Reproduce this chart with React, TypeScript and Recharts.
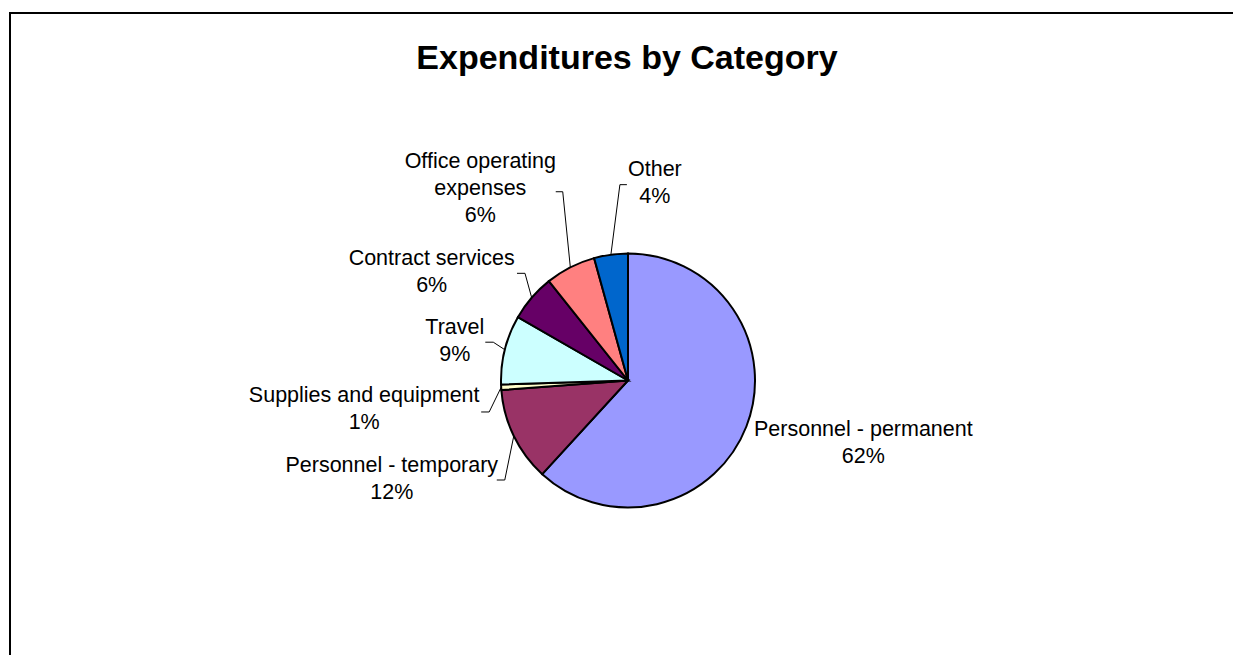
import { PieChart, Pie, Cell } from "recharts";

const categories = [
  "Personnel - permanent",
  "Personnel - temporary",
  "Supplies and equipment",
  "Travel",
  "Contract services",
  "Office operating\nexpenses",
  "Other",
];
const values = [61.8, 12.0, 0.7, 8.8, 6.0, 6.4, 4.3];
const colors = ["#9999FF", "#993366", "#FFFFCC", "#CCFFFF", "#660066", "#FF8080", "#0066CC"];

// label text offsets from the slice's rim point (first baseline), with optional leader elbow
const labelPlacement = [
  { dx: 117, dy: 9, elbow: null, tail: 0 },
  { dx: -122, dy: 35.5, elbow: [-9, 44], tail: -8 },
  { dx: -137, dy: 14.7, elbow: [-12, 24.7], tail: -8 },
  { dx: -50, dy: -15.8, elbow: [-11.5, -7.5], tail: -8 },
  { dx: -100, dy: -32.7, elbow: [-6.7, -24.4], tail: -8 },
  { dx: -90, dy: -99.3, elbow: [-7.6, -75.6], tail: -7 },
  { dx: 44, dy: -78.6, elbow: [9, -70], tail: 7 },
];

const data = categories.map((name, i) => ({ name, value: values[i] }));

const RAD = Math.PI / 180;
const font = "'Liberation Sans', Arial, sans-serif";

const renderLabel = (props: any) => {
  const { cx, cy, midAngle, outerRadius, index, percent, name } = props;
  const rx = cx + outerRadius * Math.cos(-midAngle * RAD);
  const ry = cy + outerRadius * Math.sin(-midAngle * RAD);
  const p = labelPlacement[index];
  const lines = [...String(name).split("\n"), `${Math.round(percent * 100)}%`];
  const tx = rx + p.dx;
  const ty = ry + p.dy;
  let leader = null;
  if (p.elbow) {
    const ex = rx + p.elbow[0];
    const ey = ry + p.elbow[1];
    leader = (
      <polyline
        points={`${rx},${ry} ${ex},${ey} ${ex + p.tail},${ey}`}
        fill="none"
        stroke="#000"
        strokeWidth={1}
      />
    );
  }
  return (
    <g key={`lbl-${index}`}>
      {leader}
      <text x={tx} y={ty} textAnchor="middle" fontFamily={font} fontSize={21.5} fill="#000">
        {lines.map((l, j) => (
          <tspan key={j} x={tx} dy={j === 0 ? 0 : 27}>
            {l}
          </tspan>
        ))}
      </text>
    </g>
  );
};

export default function App() {
  return (
    <div style={{ position: "fixed", left: 0, top: 0, width: 1233, height: 655, overflow: "hidden", background: "#fff" }}>
      <div
        style={{
          position: "absolute",
          left: 9,
          top: 12,
          width: 1400,
          height: 800,
          border: "2px solid #000",
        }}
      />
      <div
        style={{
          position: "absolute",
          left: 0,
          top: 40,
          width: 1254,
          textAlign: "center",
          fontFamily: font,
          fontWeight: "bold",
          fontSize: 34,
          lineHeight: "34px",
          color: "#000",
        }}
      >
        Expenditures by Category
      </div>
      <div style={{ position: "absolute", left: 0, top: 0 }}>
        <PieChart width={1233} height={655} margin={{ top: 0, right: 0, bottom: 0, left: 0 }}>
          <Pie
            data={data}
            dataKey="value"
            nameKey="name"
            cx={628}
            cy={380.5}
            outerRadius={127}
            startAngle={90}
            endAngle={-270}
            stroke="#000"
            strokeWidth={2}
            label={renderLabel}
            labelLine={false}
            isAnimationActive={false}
          >
            {data.map((d, i) => (
              <Cell key={d.name} fill={colors[i]} />
            ))}
          </Pie>
        </PieChart>
      </div>
    </div>
  );
}
